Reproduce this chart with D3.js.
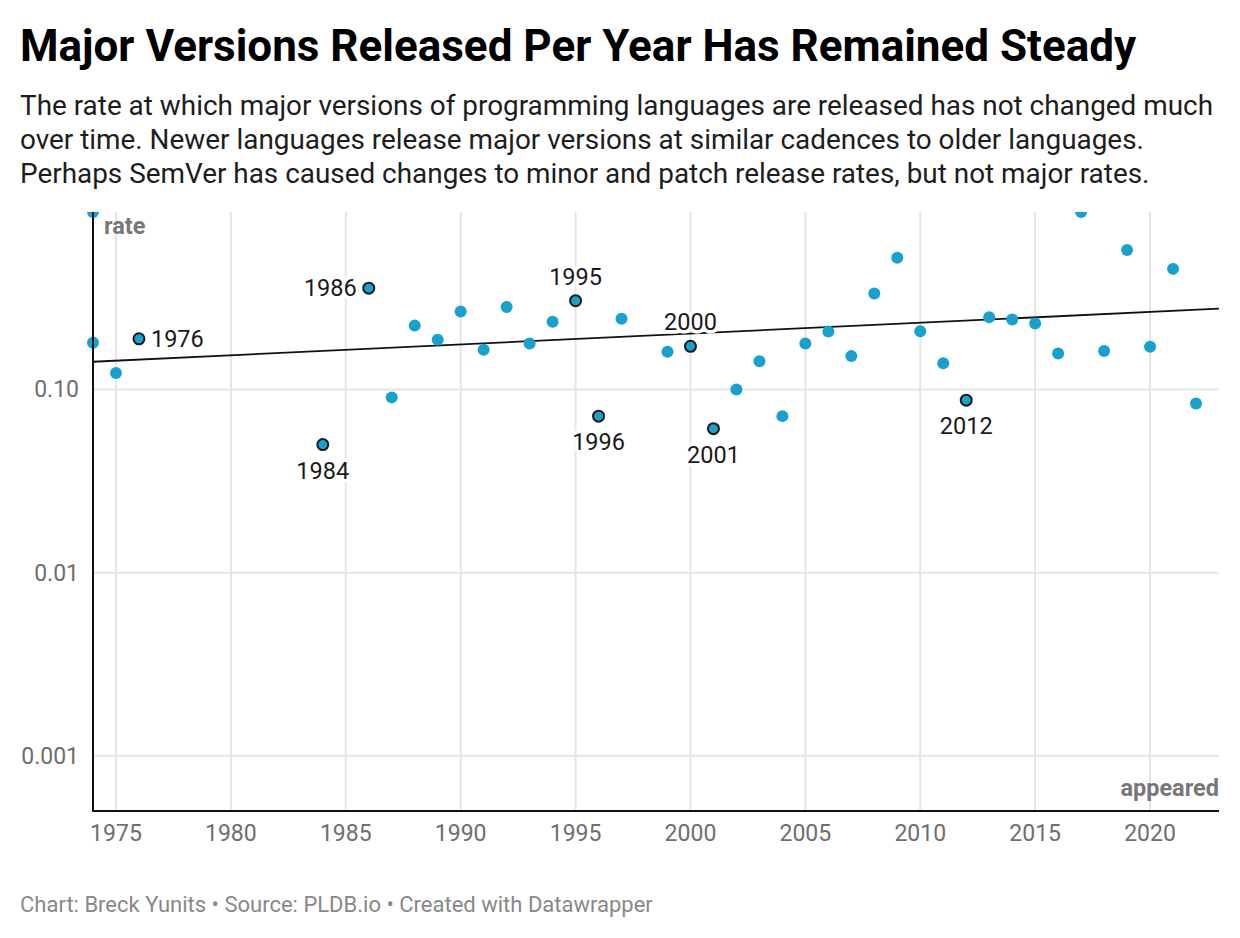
<!DOCTYPE html>
<html>
<head>
<meta charset="utf-8">
<script src="https://cdn.jsdelivr.net/npm/d3@7"></script>
<style>
  body { margin: 0; background: #fff; font-family: Roboto, "Noto Sans", sans-serif; }
  svg text { font-family: Roboto, "Noto Sans", sans-serif; }
</style>
</head>
<body>
<svg id="chart" width="1240" height="938"></svg>
<script>
// data
var years = [1974, 1974, 1975, 1976, 1984, 1986, 1987, 1988, 1989, 1990, 1991, 1992, 1993, 1994, 1995, 1996, 1997,
             1999, 2000, 2001, 2002, 2003, 2004, 2005, 2006, 2007, 2008, 2009, 2010, 2011, 2012, 2013, 2014,
             2015, 2016, 2017, 2018, 2019, 2020, 2021, 2022];
var rates = [0.93, 0.180, 0.123, 0.189, 0.050, 0.357, 0.0905, 0.223, 0.187, 0.266, 0.1645, 0.282, 0.178, 0.234, 0.305, 0.0715, 0.243,
             0.1605, 0.172, 0.0611, 0.100, 0.1427, 0.0715, 0.178, 0.207, 0.152, 0.334, 0.524, 0.208, 0.139, 0.0874, 0.248, 0.241,
             0.229, 0.157, 0.93, 0.162, 0.577, 0.171, 0.455, 0.0839];
var labelYears = [1976, 1984, 1986, 1995, 1996, 2000, 2001, 2012];
var labelSides = ["right", "below", "left", "above", "below", "above", "below", "below"];
var trendYears = [1974, 2023];
var trendRates = [0.1416, 0.276];
var xTicks = [1975, 1980, 1985, 1990, 1995, 2000, 2005, 2010, 2015, 2020];
var yTicks = [0.001, 0.01, 0.1];
var yTickLabels = ["0.001", "0.01", "0.10"];

var svg = d3.select("#chart");
var pl = 93, pr = 1219, pt = 212, pb = 811;

svg.append("text").attr("x", 20).attr("y", 61)
    .attr("font-size", 44).attr("font-weight", 700).attr("fill", "#000")
    .text("Major Versions Released Per Year Has Remained Steady");

var desc = ["The rate at which major versions of programming languages are released has not changed much",
            "over time. Newer languages release major versions at similar cadences to older languages.",
            "Perhaps SemVer has caused changes to minor and patch release rates, but not major rates."];
svg.selectAll("text.desc").data(desc).join("text")
    .attr("class", "desc")
    .attr("x", 20).attr("y", (d, i) => 115 + i * 34)
    .attr("font-size", 27.9).attr("fill", "#1d1d1d")
    .text(d => d);

var x = d3.scaleLinear().domain([1974, 2023]).range([pl, pr]);
var y = d3.scaleLog().domain([0.0005, 0.93]).range([pb, pt]);

// grid
svg.append("g").selectAll("line").data(xTicks).join("line")
    .attr("x1", d => x(d)).attr("x2", d => x(d))
    .attr("y1", pt).attr("y2", pb)
    .attr("stroke", "#e5e5e5").attr("stroke-width", 2);
svg.append("g").selectAll("line").data(yTicks).join("line")
    .attr("x1", pl).attr("x2", pr)
    .attr("y1", d => y(d)).attr("y2", d => y(d))
    .attr("stroke", "#e5e5e5").attr("stroke-width", 2);

// tick labels
svg.append("g").selectAll("text").data(xTicks).join("text")
    .attr("x", d => x(d)).attr("y", pb + 30)
    .attr("text-anchor", "middle").attr("font-size", 23).attr("fill", "#6e6e6e")
    .text(d => d);
svg.append("g").selectAll("text").data(yTicks).join("text")
    .attr("x", 79).attr("y", d => y(d) + 8)
    .attr("text-anchor", "end").attr("font-size", 23).attr("fill", "#6e6e6e")
    .text((d, i) => yTickLabels[i]);

svg.append("text").attr("x", 104).attr("y", 234)
    .attr("font-size", 23.5).attr("font-weight", 700).attr("fill", "#777").text("rate");
svg.append("text").attr("x", pr).attr("y", 796).attr("text-anchor", "end")
    .attr("font-size", 23.5).attr("font-weight", 700).attr("fill", "#777").text("appeared");

svg.append("clipPath").attr("id", "plot")
    .append("rect").attr("x", pl - 10).attr("y", pt).attr("width", pr - pl + 20).attr("height", pb - pt);

// trend line
var trend = d3.line().x(d => x(d[0])).y(d => y(d[1]));
svg.append("path")
    .datum(trendYears.map((t, i) => [t, trendRates[i]]))
    .attr("d", trend).attr("fill", "none").attr("stroke", "#111").attr("stroke-width", 1.8);

// points
var pts = years.map((yr, i) => ({ year: yr, rate: rates[i], hi: labelYears.indexOf(yr) >= 0 }));
svg.append("g").attr("clip-path", "url(#plot)")
    .selectAll("circle").data(pts).join("circle")
    .attr("cx", d => x(d.year)).attr("cy", d => y(d.rate))
    .attr("r", d => d.hi ? 5.5 : 6)
    .attr("fill", "#18a1cd")
    .attr("stroke", d => d.hi ? "#1a1a1a" : "none")
    .attr("stroke-width", 2);

// labels
var lab = labelYears.map((yr, i) => {
    var p = pts.find(q => q.year === yr);
    return { year: yr, rate: p.rate, side: labelSides[i] };
});
svg.append("g").selectAll("text").data(lab).join("text")
    .attr("x", d => x(d.year) + (d.side === "right" ? 12 : d.side === "left" ? -12 : 0))
    .attr("y", d => y(d.rate) + (d.side === "above" ? -16 : d.side === "below" ? 34 : 8))
    .attr("text-anchor", d => d.side === "right" ? "start" : d.side === "left" ? "end" : "middle")
    .attr("font-size", 23.5).attr("fill", "#1a1a1a")
    .attr("stroke", "#fff").attr("stroke-width", 7).attr("paint-order", "stroke")
    .attr("stroke-linejoin", "round")
    .text(d => d.year);

// axes
svg.append("line").attr("x1", pl).attr("x2", pl).attr("y1", pt).attr("y2", pb + 1)
    .attr("stroke", "#111").attr("stroke-width", 2);
svg.append("line").attr("x1", pl - 1).attr("x2", pr).attr("y1", pb).attr("y2", pb)
    .attr("stroke", "#111").attr("stroke-width", 2);

svg.append("text").attr("x", 20).attr("y", 912)
    .attr("font-size", 22).attr("fill", "#888")
    .text("Chart: Breck Yunits • Source: PLDB.io • Created with Datawrapper");
</script>
</body>
</html>
